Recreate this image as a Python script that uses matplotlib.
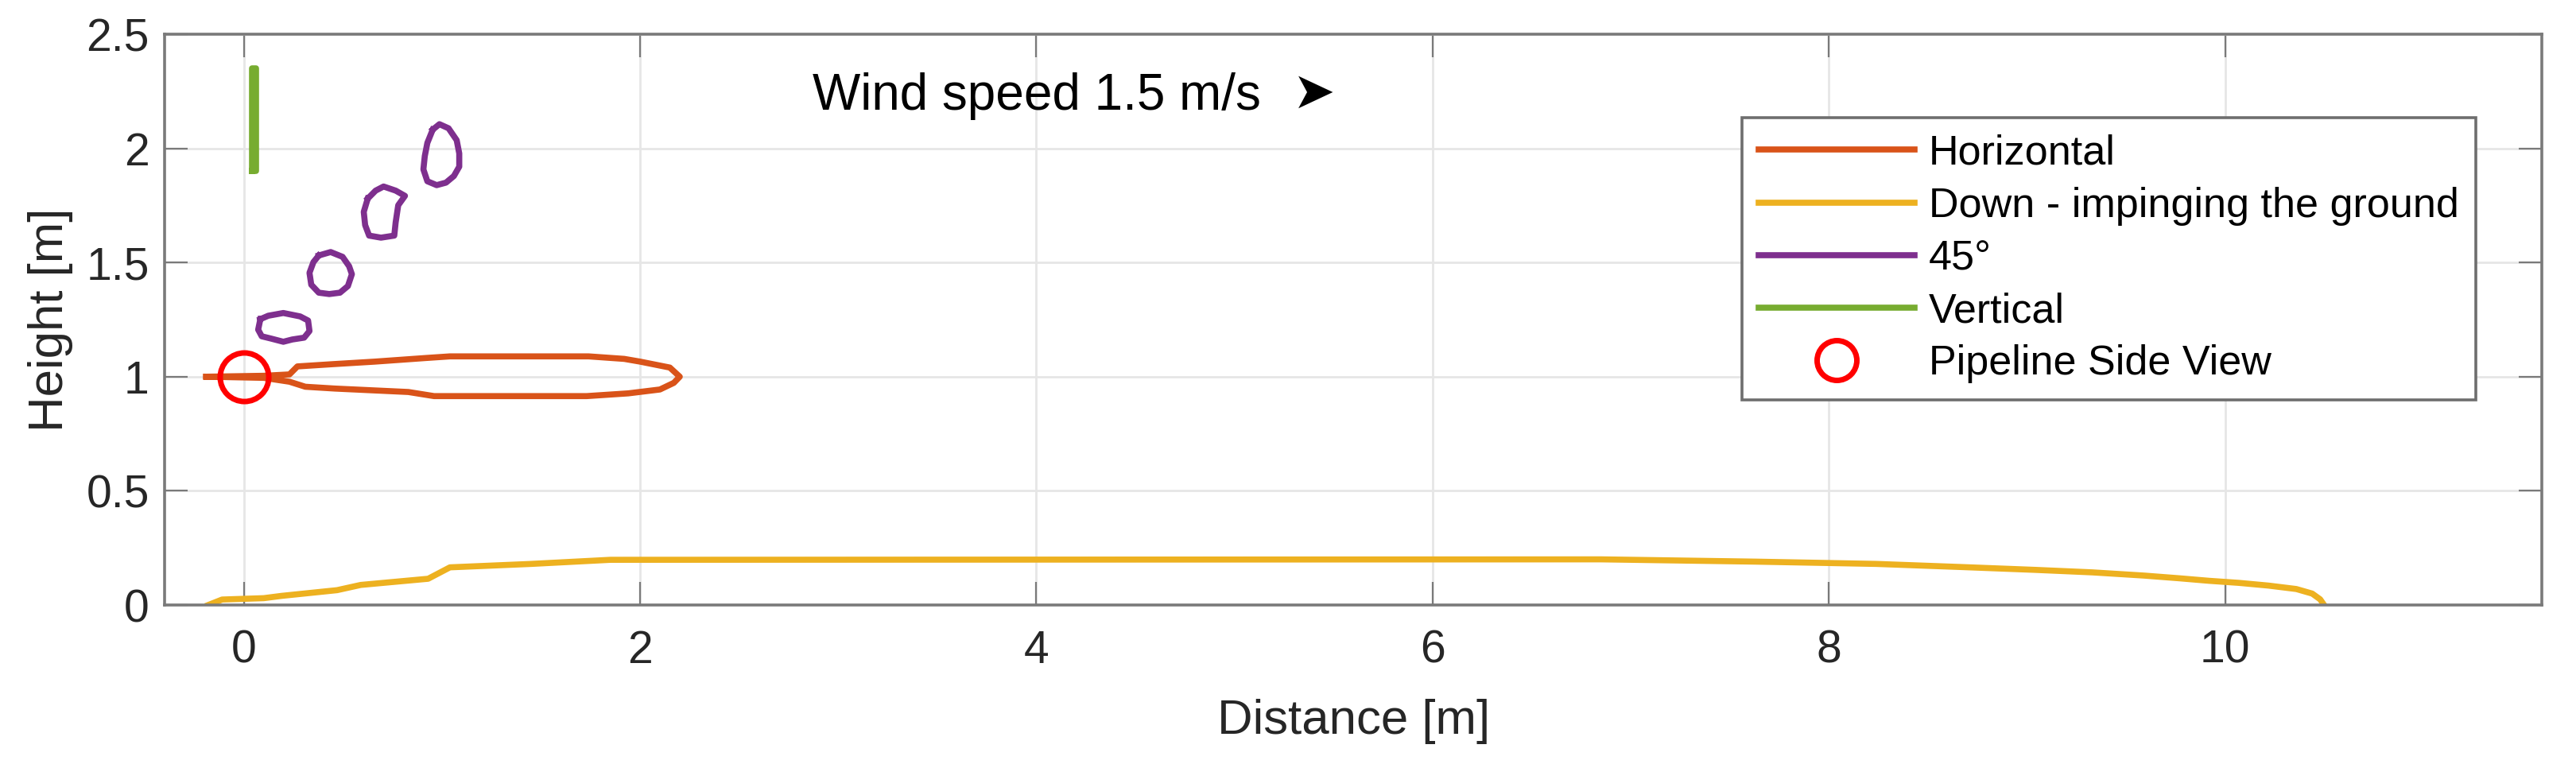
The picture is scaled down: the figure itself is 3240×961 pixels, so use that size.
import matplotlib
matplotlib.use("Agg")
import matplotlib.pyplot as plt
from matplotlib.lines import Line2D
from matplotlib.ticker import FormatStrFormatter

plt.rcParams["font.family"] = ["Liberation Sans", "DejaVu Sans"]

# --- data (metres) ---
# Horizontal release: one closed contour
horiz_x = [-0.19, 0.10, 0.23, 0.27, 0.45, 0.66, 0.92, 1.04, 1.74, 1.92, 2.00,
           2.15, 2.20, 2.17, 2.10, 1.94, 1.73, 0.96, 0.83, 0.46, 0.31, 0.23,
           0.10, -0.19]
horiz_y = [1.000, 1.004, 1.010, 1.045, 1.055, 1.066, 1.082, 1.089, 1.089,
           1.078, 1.066, 1.040, 1.000, 0.973, 0.944, 0.927, 0.915, 0.915,
           0.933, 0.948, 0.956, 0.978, 0.995, 1.000]

# Downward release impinging the ground
down_x = [-0.18, -0.11, 0.10, 0.19, 0.47, 0.59, 0.93, 1.04, 1.45, 1.85, 6.85,
          7.63, 8.24, 8.68, 9.04, 9.33, 9.59, 9.77, 9.92, 10.07, 10.22, 10.36,
          10.44, 10.48, 10.50]
down_y = [0.000, 0.024, 0.030, 0.040, 0.065, 0.088, 0.115, 0.165, 0.180,
          0.198, 0.200, 0.190, 0.180, 0.166, 0.154, 0.143, 0.129, 0.117,
          0.106, 0.097, 0.085, 0.070, 0.050, 0.025, 0.000]

# 45 degree release: four separate puffs
p45_1_x = [0.083, 0.123, 0.199, 0.284, 0.324, 0.331, 0.304, 0.244, 0.199,
           0.137, 0.090, 0.072, 0.083]
p45_1_y = [1.252, 1.267, 1.279, 1.264, 1.246, 1.200, 1.171, 1.163, 1.153,
           1.167, 1.177, 1.206, 1.252]
p45_2_x = [0.378, 0.438, 0.498, 0.531, 0.545, 0.525, 0.485, 0.431, 0.378,
           0.340, 0.331, 0.351, 0.378]
p45_2_y = [1.531, 1.546, 1.525, 1.484, 1.449, 1.397, 1.368, 1.362, 1.368,
           1.403, 1.455, 1.502, 1.531]
p45_3_x = [0.625, 0.665, 0.705, 0.766, 0.813, 0.779, 0.766, 0.759, 0.692,
           0.632, 0.612, 0.605, 0.625]
p45_3_y = [1.780, 1.815, 1.833, 1.815, 1.792, 1.751, 1.676, 1.618, 1.609,
           1.618, 1.664, 1.722, 1.780]
p45_4_x = [0.953, 0.987, 1.033, 1.074, 1.087, 1.087, 1.060, 1.020, 0.973,
           0.926, 0.906, 0.913, 0.926, 0.953]
p45_4_y = [2.082, 2.106, 2.088, 2.036, 1.978, 1.920, 1.879, 1.850, 1.839,
           1.856, 1.908, 1.966, 2.024, 2.082]

# Vertical release: thin column
vert_x = [0.040, 0.040, 0.062, 0.062, 0.040]
vert_y = [1.90, 2.35, 2.35, 1.90, 1.90]

pipe_x = [0.0]
pipe_y = [1.0]

xticks = [0, 2, 4, 6, 8, 10]
yticks = [0, 0.5, 1, 1.5, 2, 2.5]

C_H = "#D95319"
C_D = "#EDB120"
C_45 = "#7E2F8E"
C_V = "#77AC30"
AX_GRAY = "#7a7a7a"
LW = 5.5

fig = plt.figure(figsize=(32.41, 9.61), dpi=100)
ax = fig.add_axes([0.0639, 0.2081, 0.9226, 0.7471])

ax.plot(horiz_x, horiz_y, color=C_H, lw=LW)
ax.plot(down_x, down_y, color=C_D, lw=LW)
for px, py in [(p45_1_x, p45_1_y), (p45_2_x, p45_2_y),
               (p45_3_x, p45_3_y), (p45_4_x, p45_4_y)]:
    ax.plot(px, py, color=C_45, lw=LW)
ax.plot(vert_x, vert_y, color=C_V, lw=LW)
ax.plot(pipe_x, pipe_y, linestyle="none", marker="o", markersize=44,
        markerfacecolor="none", markeredgecolor="red", markeredgewidth=5,
        zorder=5)

ax.set_xlim(-0.4, 11.6)
ax.set_ylim(0, 2.5)
ax.set_xticks(xticks)
ax.set_yticks(yticks)
ax.yaxis.set_major_formatter(FormatStrFormatter("%g"))
ax.tick_params(direction="in", length=21, width=1.6, colors=AX_GRAY,
               labelcolor="#262626", labelsize=41, top=True, right=True)
ax.tick_params(axis="x", pad=22)
ax.tick_params(axis="y", pad=14)
ax.grid(True, color="#e6e6e6", lw=2)
ax.set_axisbelow(True)
for sp in ax.spines.values():
    sp.set_color(AX_GRAY)
    sp.set_linewidth(2.6)

ax.set_xlabel("Distance [m]", fontsize=44.5, color="#262626", labelpad=24)
ax.set_ylabel("Height [m]", fontsize=44.5, color="#262626", labelpad=12)

ax.text(4.0, 2.23, "Wind speed 1.5 m/s", fontsize=46, ha="center",
        va="center", color="black")
ax.text(5.40, 2.24, "\u27a4", fontsize=46, ha="center", va="center",
        color="black", family=["DejaVu Sans"])

pipe_proxy = Line2D([], [], linestyle="none", marker="o", markersize=36,
                    markerfacecolor="none", markeredgecolor="red",
                    markeredgewidth=5)
h_proxy = Line2D([], [], color=C_H, lw=LW)
d_proxy = Line2D([], [], color=C_D, lw=LW)
p_proxy = Line2D([], [], color=C_45, lw=LW)
v_proxy = Line2D([], [], color=C_V, lw=LW)
leg = ax.legend([h_proxy, d_proxy, p_proxy, v_proxy, pipe_proxy],
                ["Horizontal", "Down - impinging the ground", "45°",
                 "Vertical", "Pipeline Side View"],
                loc="upper right", bbox_to_anchor=(0.972, 0.854),
                borderaxespad=0, fontsize=37.5, handlelength=3.75,
                handletextpad=0.35, labelspacing=0.33, borderpad=0.4,
                fancybox=False, framealpha=1, edgecolor="#6e6e6e")
leg.get_frame().set_linewidth(2.6)

fig.savefig("out.png", dpi=100)
